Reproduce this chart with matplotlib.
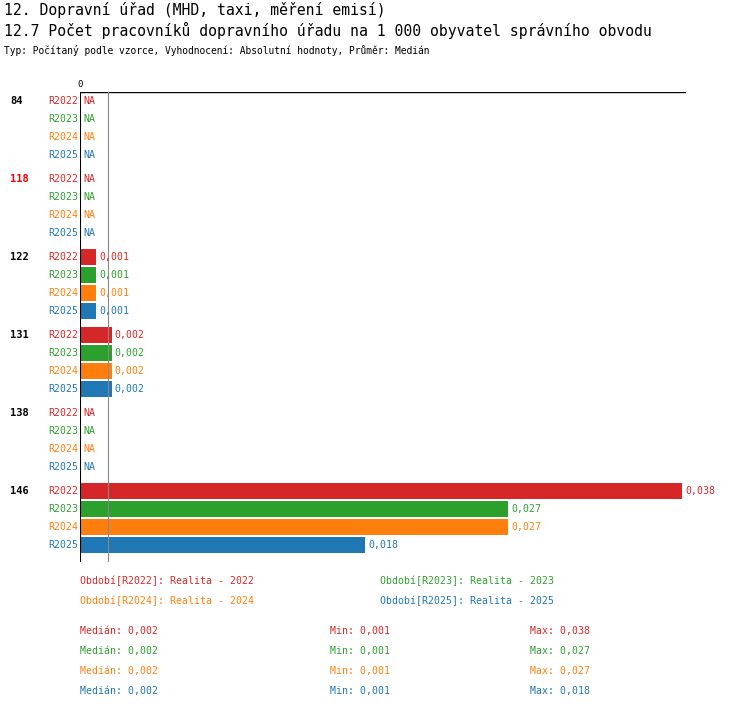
import matplotlib
matplotlib.use('Agg')
import matplotlib.pyplot as plt

groups = ['84', '118', '122', '131', '138', '146']
periods = ['R2022', 'R2023', 'R2024', 'R2025']
colors = ['#d62728', '#2ca02c', '#ff7f0e', '#1f77b4']
# values per group, per period (None = NA)
values = [
    [None, None, None, None],
    [None, None, None, None],
    [0.001, 0.001, 0.001, 0.001],
    [0.002, 0.002, 0.002, 0.002],
    [None, None, None, None],
    [0.038, 0.027, 0.027, 0.018],
]
highlight = '118'
median_all = 0.002
stats_med = [0.002, 0.002, 0.002, 0.002]
stats_min = [0.001, 0.001, 0.001, 0.001]
stats_max = [0.038, 0.027, 0.027, 0.018]
legend_names = ['Realita - 2022', 'Realita - 2023', 'Realita - 2024', 'Realita - 2025']

W, H = 750, 710
MONO = 'DejaVu Sans Mono'
FS = 7.1
fig = plt.figure(figsize=(W / 100, H / 100), dpi=100)


def fx(px):
    return px / W


def fy(py):
    return 1 - py / H


# title block
fig.text(fx(4), fy(10), '12. Dopravní úřad (MHD, taxi, měření emisí)', family=MONO,
         fontsize=10.6, va='center', ha='left')
fig.text(fx(4), fy(30), '12.7 Počet pracovníků dopravního úřadu na 1 000 obyvatel správního obvodu',
         family=MONO, fontsize=10.6, va='center', ha='left')
fig.text(fx(4), fy(50), 'Typ: Počítaný podle vzorce, Vyhodnocení: Absolutní hodnoty, Průměr: Medián',
         family=MONO, fontsize=6.9, va='center', ha='left')

# plot area: x pixels 80..686, y pixels 92..562
x0, x1, y0, y1 = 80, 686, 92, 562
ax = fig.add_axes([fx(x0), fy(y1), fx(x1 - x0), (y1 - y0) / H])
xmax = 0.038 * (x1 - x0) / 602
ax.set_xlim(0, xmax)
ax.set_ylim(y1, y0)  # y in pixel units, inverted
ax.axis('off')

ax.plot([0, xmax], [y0, y0], color='black', lw=1)
ax.plot([0, 0], [y0, y1], color='black', lw=1.5)
ax.plot([median_all * 0.88, median_all * 0.88], [y0, y1], color='#888888', lw=0.8)
ax.text(0, y0 - 3, '0', family=MONO, fontsize=6.5, ha='center', va='bottom')

for gi, g in enumerate(groups):
    base = 101 + gi * 78
    fig.text(fx(10), fy(base), g, family=MONO, fontsize=7.5, fontweight='bold', ha='left', va='center',
             color='red' if g == highlight else 'black')
    for pi, p in enumerate(periods):
        yc = base + pi * 18
        c = colors[pi]
        fig.text(fx(78), fy(yc), p, family=MONO, fontsize=FS, color=c, ha='right', va='center')
        v = values[gi][pi]
        if v is None:
            ax.text(0.0002, yc, 'NA', family=MONO, fontsize=FS, color=c, ha='left', va='center')
        else:
            ax.barh(yc, v, height=16, color=c, left=0)
            ax.text(v + 0.0002, yc, f'{v:.3f}'.replace('.', ','), family=MONO, fontsize=FS,
                    color=c, ha='left', va='center')

# legend
leg_pos = [(80, 581), (380, 581), (80, 601), (380, 601)]
for (px, py), p, name, c in zip(leg_pos, periods, legend_names, colors):
    fig.text(fx(px), fy(py), f'Období[{p}]: {name}', family=MONO, fontsize=FS, color=c, va='center')

# stats
for i, c in enumerate(colors):
    py = 631 + i * 20
    fig.text(fx(80), fy(py), f'Medián: {stats_med[i]:.3f}'.replace('.', ','), family=MONO, fontsize=FS, color=c, va='center')
    fig.text(fx(330), fy(py), f'Min: {stats_min[i]:.3f}'.replace('.', ','), family=MONO, fontsize=FS, color=c, va='center')
    fig.text(fx(530), fy(py), f'Max: {stats_max[i]:.3f}'.replace('.', ','), family=MONO, fontsize=FS, color=c, va='center')

fig.savefig('out.png', dpi=100, facecolor='white')
